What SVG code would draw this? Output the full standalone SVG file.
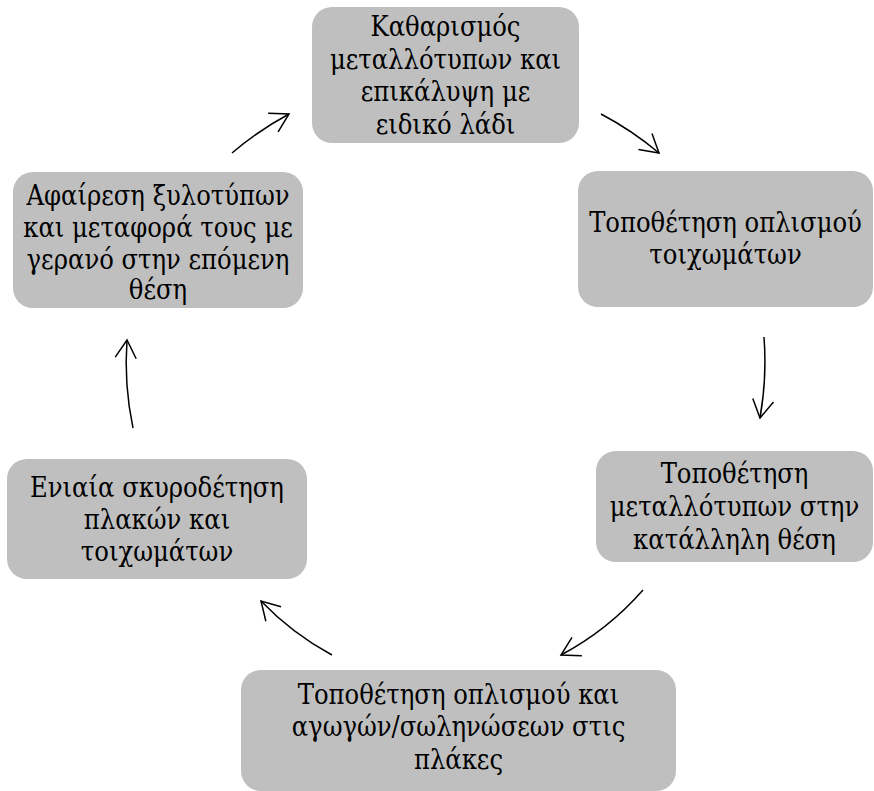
<svg xmlns="http://www.w3.org/2000/svg" width="874" height="791" viewBox="0 0 874 791">
<style>
.box{fill:#bfbfbf;stroke:none}
.t{font-family:"DejaVu Serif Condensed","DejaVu Serif","Liberation Serif",serif;font-size:27px;fill:#000;text-anchor:middle}
.c{fill:none;stroke:#000;stroke-width:1.5}
</style>
<defs>
<marker id="ah" viewBox="-22 -12 24 24" refX="0" refY="0" markerWidth="24" markerHeight="24" orient="auto" markerUnits="userSpaceOnUse">
<path d="M-18,-10.5 L0,0 L-18,10.5" fill="none" stroke="#000" stroke-width="1.5"/>
</marker>
</defs>
<rect width="874" height="791" fill="#fff"/>
<g id="n1"><rect class="box" x="312" y="7" width="267" height="136" rx="20"/>
<text class="t" x="445.5" y="36">Καθαρισμός</text>
<text class="t" x="445.5" y="69">μεταλλότυπων και</text>
<text class="t" x="445.5" y="101">επικάλυψη με</text>
<text class="t" x="445.5" y="134">ειδικό λάδι</text></g>
<g id="n2"><rect class="box" x="578" y="171" width="295" height="136" rx="20"/>
<text class="t" x="725.5" y="232">Τοποθέτηση οπλισμού</text>
<text class="t" x="725.5" y="264">τοιχωμάτων</text></g>
<g id="n3"><rect class="box" x="596" y="451" width="277" height="111" rx="20"/>
<text class="t" x="734.5" y="483">Τοποθέτηση</text>
<text class="t" x="734.5" y="516">μεταλλότυπων στην</text>
<text class="t" x="734.5" y="549">κατάλληλη θέση</text></g>
<g id="n4"><rect class="box" x="241" y="670" width="435" height="121" rx="20"/>
<text class="t" x="458.5" y="704">Τοποθέτηση οπλισμού και</text>
<text class="t" x="458.5" y="736">αγωγών/σωληνώσεων στις</text>
<text class="t" x="458.5" y="769">πλάκες</text></g>
<g id="n5"><rect class="box" x="7" y="459" width="300" height="120" rx="20"/>
<text class="t" x="157" y="497">Ενιαία σκυροδέτηση</text>
<text class="t" x="157" y="529">πλακών και</text>
<text class="t" x="157" y="561">τοιχωμάτων</text></g>
<g id="n6"><rect class="box" x="13" y="172" width="290" height="136" rx="20"/>
<text class="t" x="158" y="205">Αφαίρεση ξυλοτύπων</text>
<text class="t" x="158" y="237">και μεταφορά τους με</text>
<text class="t" x="158" y="269">γερανό στην επόμενη</text>
<text class="t" x="158" y="299">θέση</text></g>
<g id="connectors">
<path class="c" marker-end="url(#ah)" d="M232,153 A323,323 0 0 1 289,114"/>
<path class="c" marker-end="url(#ah)" d="M601,114 A326,326 0 0 1 659,153"/>
<path class="c" marker-end="url(#ah)" d="M764,337 A325,325 0 0 1 760,418"/>
<path class="c" marker-end="url(#ah)" d="M643,590 A290,290 0 0 1 561,655"/>
<path class="c" marker-end="url(#ah)" d="M332,655 A285,285 0 0 1 261,601"/>
<path class="c" marker-end="url(#ah)" d="M133,428 A315,315 0 0 1 127,340"/>
</g>
</svg>
